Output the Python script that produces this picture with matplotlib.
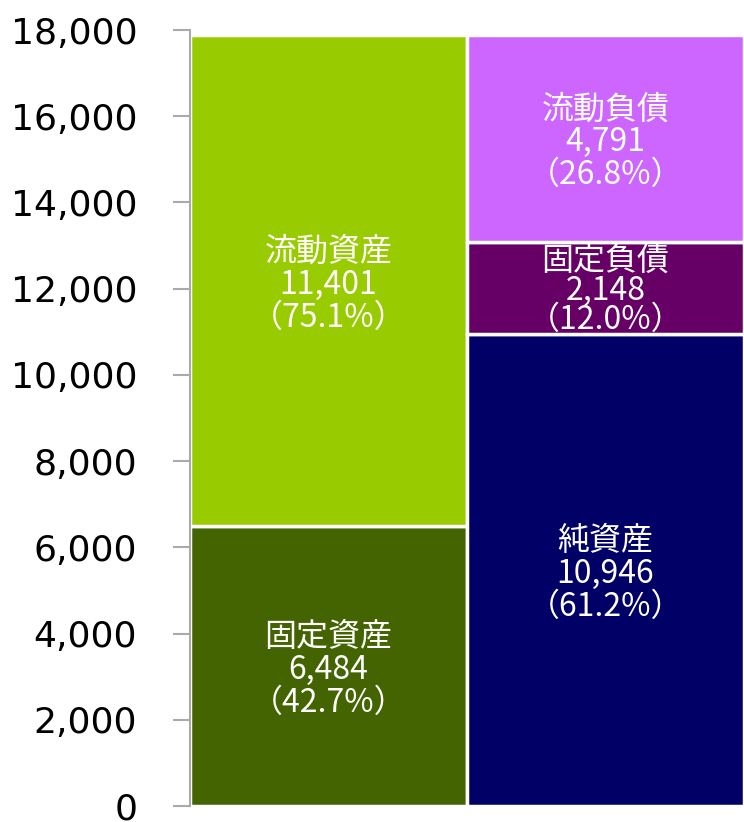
import matplotlib.pyplot as plt
import numpy as np

plt.rcParams['font.family'] = ['DejaVu Sans', 'Noto Sans CJK JP']

# Data (balance sheet, stacked per column)
columns = [0, 1]
asset_names = ['固定資産', '流動資産']
asset_values = [6484, 11401]
asset_pcts = ['42.7%', '75.1%']
asset_colors = ['#436400', '#99CC00']

liab_names = ['純資産', '固定負債', '流動負債']
liab_values = [10946, 2148, 4791]
liab_pcts = ['61.2%', '12.0%', '26.8%']
liab_colors = ['#000066', '#660066', '#CC66FF']

yticks = np.arange(0, 18001, 2000)

fig = plt.figure(figsize=(7.44, 8.22), dpi=100)
ax = fig.add_axes([190 / 744, 16 / 822, 554 / 744, 776 / 822])


def stack(x, names, values, pcts, colors):
    bottom = 0
    for name, v, p, c in zip(names, values, pcts, colors):
        ax.bar(x, v, bottom=bottom, width=1.0, color=c,
               edgecolor='white', linewidth=2.5)
        # thin segment gets tighter lines, like the original
        thin = v < 3000
        ax.annotate(f'{name}\n{v:,}\n（{p}）', (x, bottom + v / 2),
                    xytext=(0, -2 if thin else -3), textcoords='offset points',
                    ha='center', va='center', color='white',
                    fontsize=23, linespacing=0.9 if thin else 1.04,
                    family=['Noto Sans CJK JP', 'DejaVu Sans'])
        bottom += v


stack(columns[0], asset_names, asset_values, asset_pcts, asset_colors)
stack(columns[1], liab_names, liab_values, liab_pcts, liab_colors)

ax.set_xlim(-0.5, 1.5)
ax.set_ylim(0, 18000)
ax.set_yticks(yticks)
ax.set_yticklabels([f'{t:,}' for t in yticks], fontsize=26)
ax.set_xticks([])
for s in ['top', 'right', 'bottom']:
    ax.spines[s].set_visible(False)
ax.spines['left'].set_color('#AAAAAA')
ax.spines['left'].set_linewidth(1.5)
ax.tick_params(axis='y', length=12, width=1.5, color='#AAAAAA', pad=26)

fig.savefig('out.png', dpi=100)
